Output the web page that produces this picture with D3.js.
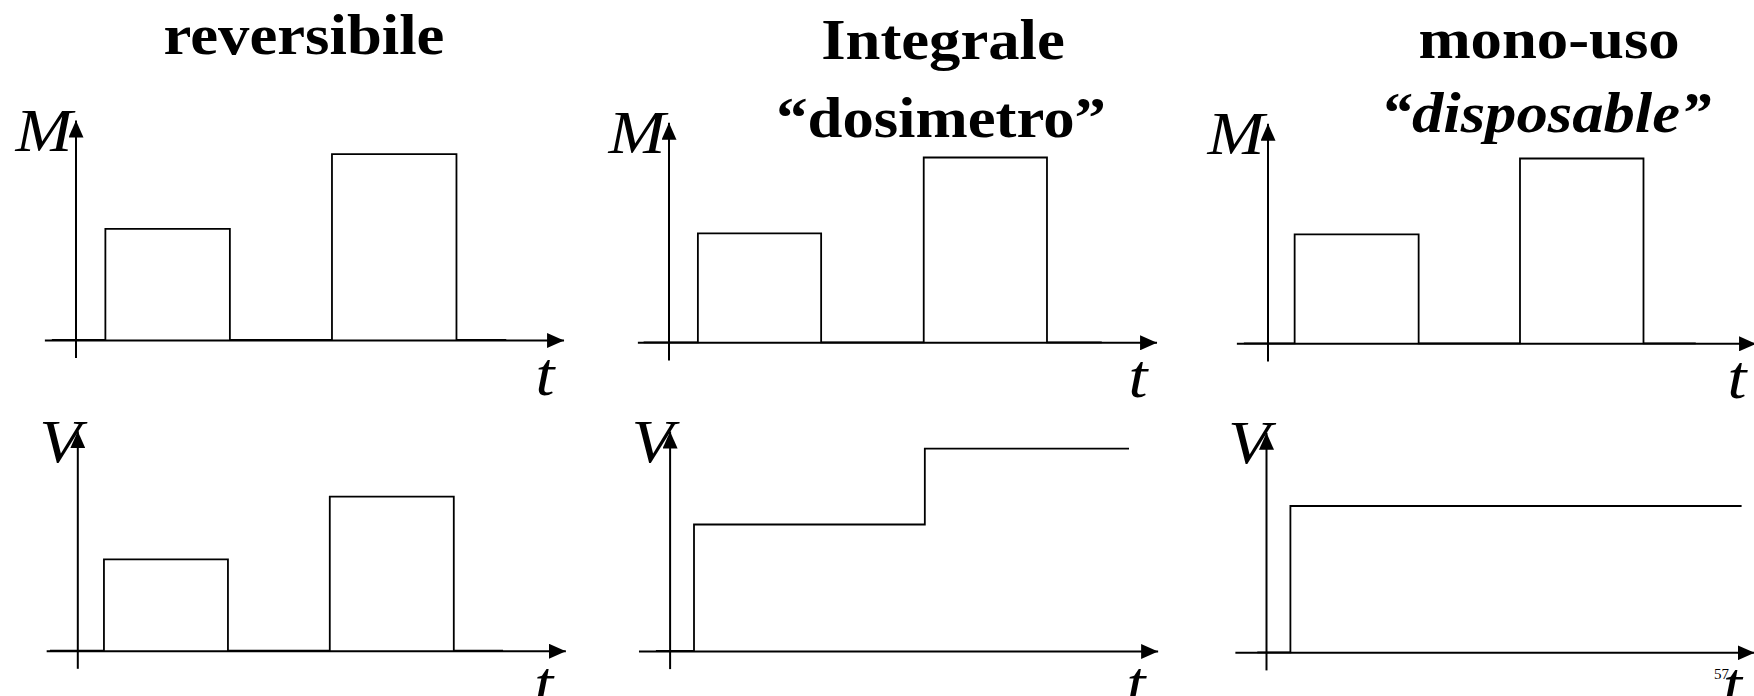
<!DOCTYPE html>
<html>
<head>
<meta charset="utf-8">
<script src="https://cdn.jsdelivr.net/npm/d3@7"></script>
<style>
  html, body { margin: 0; padding: 0; background: #fff; }
  svg { display: block; }
  .title { font-family: "Liberation Serif", "Times New Roman", serif; font-weight: bold; font-size: 57px; }
  .sym { font-family: "Liberation Serif", "Times New Roman", serif; font-style: italic; font-size: 62px; }
</style>
</head>
<body>
<div id="chart"></div>
<script>
// titles of the three columns (second line optional, italic for "disposable")
const columnTitles = ["reversibile", "Integrale", "mono-uso"];
const columnSubtitles = [null, "\u201cdosimetro\u201d", "\u201cdisposable\u201d"];
const subtitleItalic = [false, false, true];

// top row: M(t), step-after signals (time in arbitrary units, 0 = vertical axis)
const mTimes = [
  [-0.95, 1.2, 6.2, 10.3, 15.3, 17.3],
  [-1.0, 1.18, 6.13, 10.25, 15.2, 17.4],
  [-0.95, 1.09, 6.07, 10.14, 15.1, 17.2]
];
const mValues = [
  [0, 5.05, 0, 8.45, 0, 0],
  [0, 4.95, 0, 8.4, 0, 0],
  [0, 4.95, 0, 8.4, 0, 0]
];

// bottom row: V(t) response of the three detector types
const vTimes = [
  [-1.1, 1.07, 6.05, 10.14, 15.12, 17.1],
  [-0.55, 0.98, 10.25, 18.45],
  [-0.35, 0.98, 19.1]
];
const vValues = [
  [0, 4.15, 0, 7.0, 0, 0],
  [0, 5.75, 9.2, 9.2],
  [0, 6.65, 6.65]
];

const tDomain = [-1.25, 19.6];
const yDomain = [-0.8, 10];

const width = 1754, height = 696;
const pxPerT = 24.9, pxPerY = 22;

// origin (vertical axis x, baseline y) of every panel
const topOrigins = [[75.5, 340], [668.5, 342.3], [1267.5, 343.3]];
const bottomOrigins = [[77.3, 650.7], [669.6, 651], [1266, 652.3]];

const svg = d3.select("#chart").append("svg")
    .attr("width", width)
    .attr("height", height);

svg.append("defs").append("marker")
    .attr("id", "arrow")
    .attr("viewBox", "0 0 17 15")
    .attr("refX", 17)
    .attr("refY", 7.5)
    .attr("markerWidth", 17)
    .attr("markerHeight", 15)
    .attr("markerUnits", "userSpaceOnUse")
    .attr("orient", "auto")
    .append("path")
    .attr("d", "M0,0L17,7.5L0,15Z")
    .attr("fill", "#000");

function stretchedText(sel, x, y, str, cls) {
    return sel.append("text")
        .attr("class", cls)
        .attr("transform", `translate(${x},${y}) scale(1.1,1)`)
        .text(str);
}

function drawPanel(origin, times, values, yLabel) {
    const [ox, oy] = origin;
    const x = d3.scaleLinear()
        .domain(tDomain)
        .range([ox + tDomain[0] * pxPerT, ox + tDomain[1] * pxPerT]);
    const y = d3.scaleLinear()
        .domain(yDomain)
        .range([oy - yDomain[0] * pxPerY, oy - yDomain[1] * pxPerY]);

    const g = svg.append("g");

    // signal first so the axes sit on top of it
    const line = d3.line()
        .x(d => x(d[0]))
        .y(d => y(d[1]))
        .curve(d3.curveStepAfter);
    g.append("path")
        .datum(d3.zip(times, values))
        .attr("d", line)
        .attr("fill", "none")
        .attr("stroke", "#000")
        .attr("stroke-width", 1.8);

    const xAxis = g.append("g")
        .attr("transform", `translate(0,${y(0)})`)
        .call(d3.axisBottom(x).tickValues([]).tickSizeOuter(0));
    const yAxis = g.append("g")
        .attr("transform", `translate(${x(0)},0)`)
        .call(d3.axisLeft(y).tickValues([]).tickSizeOuter(0));
    [xAxis, yAxis].forEach(a => a.select(".domain")
        .attr("stroke", "#000")
        .attr("stroke-width", 2)
        .attr("marker-end", "url(#arrow)"));

    stretchedText(g, x(0) + (yLabel === "M" ? -60 : -38), y(0) - 189, yLabel, "sym");
    return { g, x, y };
}

columnTitles.forEach((title, i) => {
    const top = drawPanel(topOrigins[i], mTimes[i], mValues[i], "M");
    stretchedText(top.g, topOrigins[i][0] + 460, topOrigins[i][1] + 55, "t", "sym");

    const bottom = drawPanel(bottomOrigins[i], vTimes[i], vValues[i], "V");
    stretchedText(bottom.g, bottomOrigins[i][0] + 457, bottomOrigins[i][1] + 53, "t", "sym");
});

// column titles
const titleX = [304, 943, 1549];
const titleY = [53.5, 59, 58.3];
const subX = [0, 941, 1546];
const subY = [0, 136.5, 131.7];
columnTitles.forEach((title, i) => {
    stretchedText(svg, titleX[i], titleY[i], title, "title").attr("text-anchor", "middle");
    if (columnSubtitles[i]) {
        stretchedText(svg, subX[i], subY[i], columnSubtitles[i], "title")
            .attr("text-anchor", "middle")
            .style("font-style", subtitleItalic[i] ? "italic" : "normal");
    }
});

// slide number
svg.append("text")
    .attr("x", 1714)
    .attr("y", 679)
    .style("font-family", "Liberation Serif, serif")
    .style("font-size", "15px")
    .text("57");
</script>
</body>
</html>
